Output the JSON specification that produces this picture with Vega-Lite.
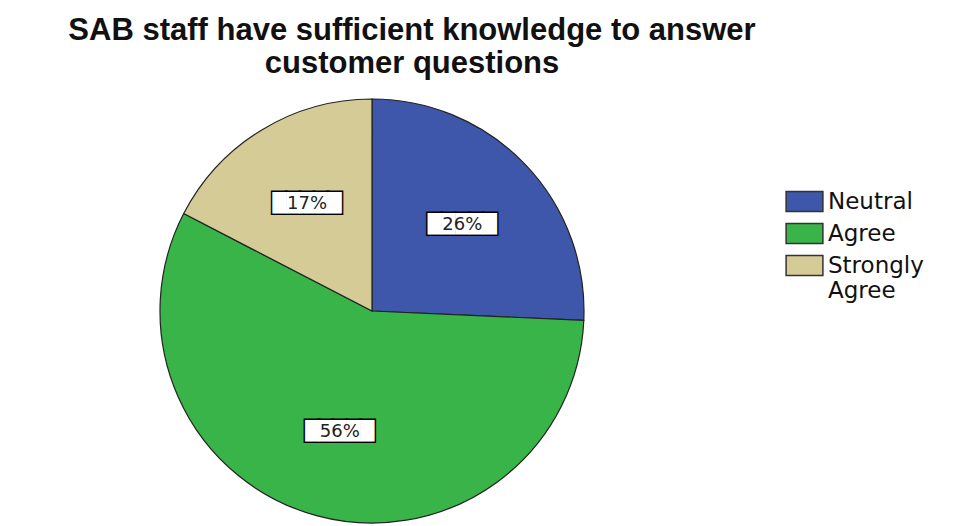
{
  "$schema": "https://vega.github.io/schema/vega-lite/v6.json",
  "width": 744,
  "height": 424,
  "padding": {"left": 0, "top": 14, "right": 0, "bottom": 0},
  "background": "white",
  "title": {
    "text": ["SAB staff have sufficient knowledge to answer", "customer questions"],
    "font": "Liberation Sans",
    "fontSize": 31,
    "fontWeight": "bold",
    "color": "#111",
    "anchor": "middle",
    "dx": 40,
    "offset": 17,
    "lineHeight": 33
  },
  "data": {
    "values": [
      {"response": "Neutral", "pct": 25.7, "label": "26%", "order": 1},
      {"response": "Agree", "pct": 56.9, "label": "56%", "order": 2},
      {"response": "Strongly Agree", "pct": 17.4, "label": "17%", "order": 3}
    ]
  },
  "encoding": {
    "theta": {"field": "pct", "type": "quantitative", "stack": true},
    "order": {"field": "order", "type": "quantitative"}
  },
  "layer": [
    {
      "mark": {"type": "arc", "stroke": "#222", "strokeWidth": 1.2},
      "encoding": {
        "color": {
          "field": "response",
          "type": "nominal",
          "sort": ["Neutral", "Agree", "Strongly Agree"],
          "scale": {"domain": ["Neutral", "Agree", "Strongly Agree"], "range": ["#3e57aa", "#38b449", "#d5cb97"]},
          "legend": {
            "title": null,
            "orient": "none",
            "legendX": 792,
            "legendY": 90,
            "symbolType": "M-1.6,-0.87H1.6V0.87H-1.6Z",
            "symbolSize": 529,
            "symbolStrokeColor": "#333",
            "symbolStrokeWidth": 1.5,
            "labelFont": "DejaVu Sans",
            "labelFontSize": 23,
            "labelColor": "#111",
            "labelLineHeight": 20,
            "rowPadding": 5,
            "labelOffset": 11,
            "labelExpr": "datum.label == 'Strongly Agree' ? ['Strongly', 'Agree'] : datum.label"
          }
        }
      }
    },
    {
      "mark": {"type": "text", "radius": 125, "font": "DejaVu Sans", "fontSize": 18, "fill": "black", "stroke": "black", "strokeWidth": 3, "baseline": "middle"},
      "encoding": {"text": {"value": "█████"}}
    },
    {
      "mark": {"type": "text", "radius": 125, "font": "DejaVu Sans", "fontSize": 18, "fill": "white", "baseline": "middle"},
      "encoding": {"text": {"value": "█████"}}
    },
    {
      "mark": {"type": "text", "radius": 125, "font": "DejaVu Sans", "fontSize": 18, "fill": "#222", "baseline": "middle"},
      "encoding": {"text": {"field": "label"}}
    }
  ]
}
